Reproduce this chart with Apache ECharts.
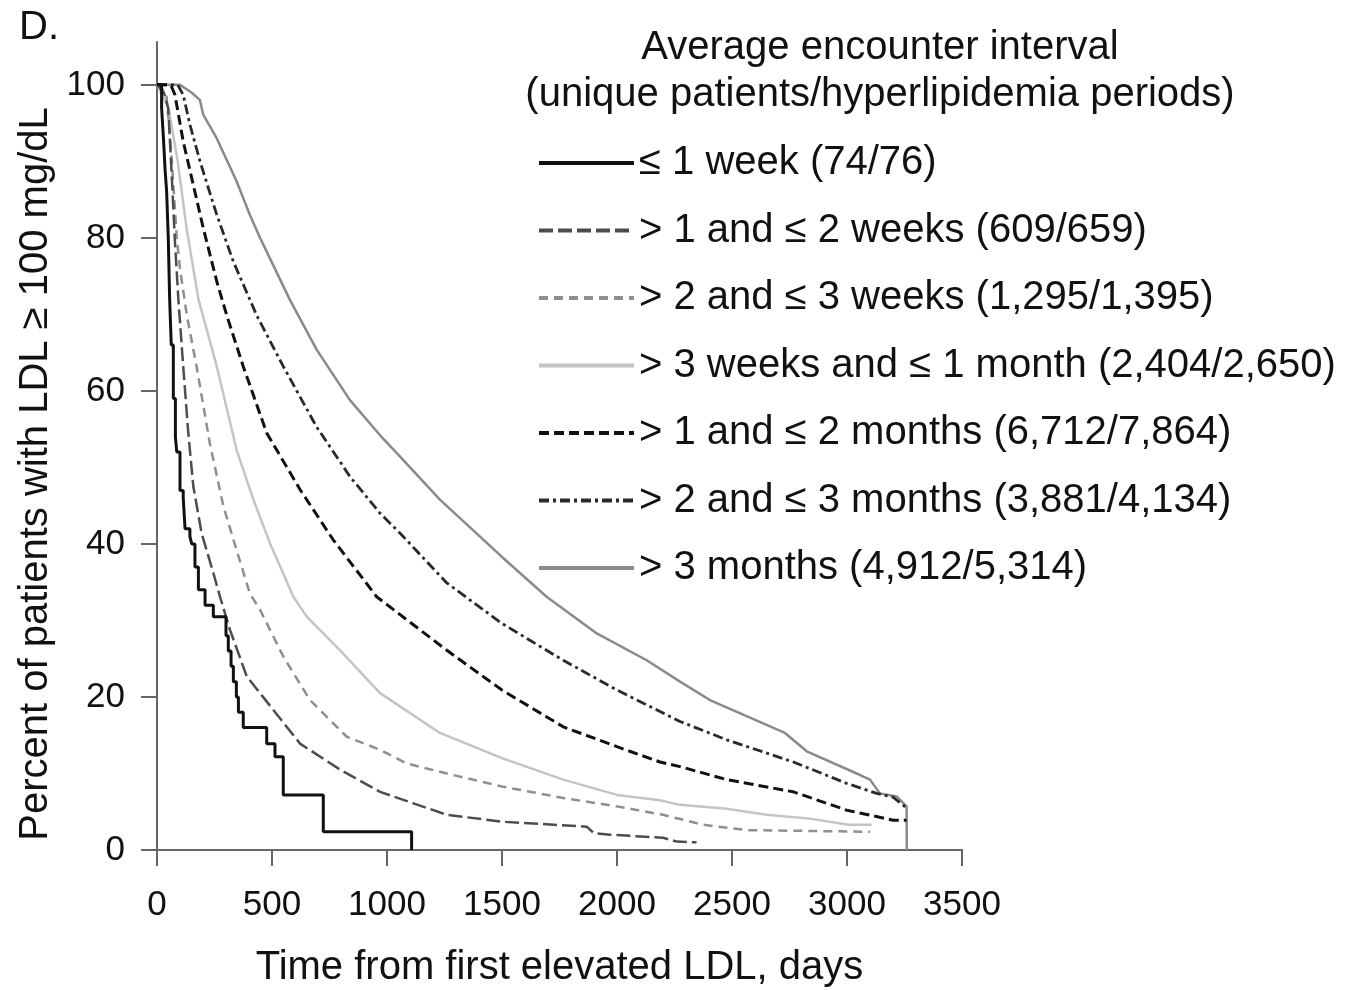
<!DOCTYPE html>
<html>
<head>
<meta charset="utf-8">
<script src="https://cdn.jsdelivr.net/npm/echarts@6/dist/echarts.min.js"></script>
<style>
  html, body { margin: 0; padding: 0; background: #fff; }
  #chart { width: 1363px; height: 990px; }
</style>
</head>
<body>
<div id="chart"></div>
<script>
// survival curves: [days, percent]
const upTo1Week = [[0, 100], [20, 97], [28, 93], [35, 89], [42, 86], [49, 80], [55, 72], [62, 66], [71, 59], [80, 54], [86, 52], [100, 47], [114, 46], [122, 42], [143, 41], [151, 40], [165, 37], [180, 34], [209, 32], [245, 30.5], [300, 28], [310, 26], [322, 24], [332, 22], [345, 20], [354, 18], [375, 16], [477, 13.9], [513, 12.2], [549, 7.2], [723, 2.4], [1107, 0]];
const weeks1to2 = [[0, 100], [30, 99], [49, 96.9], [64, 88.2], [78, 79.5], [93, 71.9], [114, 63.2], [136, 54.5], [158, 47.5], [194, 41.4], [245, 36.2], [274, 33.1], [317, 28.8], [390, 22.7], [506, 18.3], [622, 13.9], [796, 10.5], [970, 7.6], [1115, 6.1], [1260, 4.6], [1500, 3.7], [1868, 3.05], [1900, 2.2], [1970, 2.0], [2200, 1.6], [2260, 1.1], [2346, 1.0]];
const weeks2to3 = [[0, 100], [40, 99], [60, 92], [86, 80], [100, 76], [129, 70], [172, 63.2], [230, 53.1], [288, 45], [346, 39.2], [404, 33.5], [448, 31.4], [549, 25.3], [665, 19.6], [825, 14.8], [970, 13.1], [1086, 11.3], [1260, 10.0], [1500, 8.3], [1766, 6.8], [2000, 5.7], [2200, 4.6], [2374, 3.3], [2564, 2.6], [3057, 2.4], [3100, 2.4]];
const weeks3toMonth = [[0, 100], [50, 97], [90, 90], [130, 81], [180, 72], [260, 63.2], [346, 52.3], [419, 45.8], [491, 40.1], [593, 33.1], [651, 30.5], [796, 26.1], [970, 20.5], [1230, 15.3], [1500, 12.0], [1766, 9.2], [2000, 7.2], [2187, 6.5], [2274, 5.9], [2477, 5.4], [2650, 4.6], [2839, 4.1], [3006, 3.3], [3107, 3.3]];
const months1to2 = [[0, 100], [60, 100], [78, 98.7], [114, 92.6], [158, 86.9], [201, 81.3], [260, 74.3], [303, 69.9], [375, 63.2], [477, 54.5], [622, 47.1], [767, 40.5], [955, 33.1], [1260, 26.1], [1500, 20.9], [1766, 16.1], [2000, 13.5], [2187, 11.5], [2274, 10.9], [2477, 9.2], [2767, 7.6], [2999, 5.2], [3201, 3.9], [3259, 3.9]];
const months2to3 = [[0, 100], [90, 100], [114, 98.7], [143, 94.8], [187, 90], [260, 83], [332, 76.9], [433, 69.9], [549, 63.2], [694, 55.3], [839, 48.8], [970, 44.0], [1057, 41.4], [1260, 34.9], [1500, 29.6], [1766, 24.8], [2000, 20.9], [2187, 18.1], [2274, 16.8], [2477, 14.4], [2767, 11.5], [2999, 8.7], [3129, 7.4], [3200, 6.9], [3259, 5.5]];
const over3Months = [[0, 100], [100, 100], [150, 99], [187, 98], [201, 96.1], [260, 93], [346, 87.4], [404, 83], [448, 80], [578, 71.9], [694, 65.4], [839, 58.8], [970, 54.2], [1057, 51.4], [1230, 45.8], [1500, 38.3], [1694, 33.1], [1912, 28.3], [2129, 24.8], [2274, 22.0], [2404, 19.6], [2730, 15.3], [2825, 12.9], [3057, 9.8], [3100, 9.2], [3143, 7.4], [3216, 7.0], [3259, 5.7], [3260, 0]];

const seriesNames = [
  '≤ 1 week (74/76)',
  '> 1 and ≤ 2 weeks (609/659)',
  '> 2 and ≤ 3 weeks (1,295/1,395)',
  '> 3 weeks and ≤ 1 month (2,404/2,650)',
  '> 1 and ≤ 2 months (6,712/7,864)',
  '> 2 and ≤ 3 months (3,881/4,134)',
  '> 3 months (4,912/5,314)'
];
const xTicks = [0, 500, 1000, 1500, 2000, 2500, 3000, 3500];
const yTicks = [0, 20, 40, 60, 80, 100];

const FONT = '"Liberation Sans", Arial, sans-serif';
const curves = [upTo1Week, weeks1to2, weeks2to3, weeks3toMonth, months1to2, months2to3, over3Months];
const styles = [
  { color: '#111', width: 3, type: 'solid' },
  { color: '#4d4d4d', width: 2.5, type: [14, 5] },
  { color: '#8f8f8f', width: 2.5, type: [9, 6] },
  { color: '#c4c4c4', width: 2.5, type: 'solid' },
  { color: '#111', width: 3, type: [10, 5] },
  { color: '#2a2a2a', width: 2.8, type: [10, 4, 3, 4] },
  { color: '#8a8a8a', width: 2.5, type: 'solid' }
];

const chart = echarts.init(document.getElementById('chart'));

chart.setOption({
  animation: false,
  textStyle: { fontFamily: FONT },
  grid: { left: 157, right: 401, top: 42, bottom: 140, outerBoundsMode: 'none', containLabel: false },
  graphic: [
    {
      type: 'text', left: 19, top: 8,
      style: { text: 'D.', fontSize: 40, fontFamily: FONT, fill: '#111' }
    },
    {
      type: 'text', x: 880, y: 24,
      style: {
        text: 'Average encounter interval\n(unique patients/hyperlipidemia periods)',
        textAlign: 'center', fontSize: 40, lineHeight: 47, fontFamily: FONT, fill: '#111'
      }
    }
  ],
  legend: {
    orient: 'vertical',
    left: 537,
    top: 143,
    padding: 0,
    itemWidth: 95,
    itemHeight: 4,
    itemGap: 27.5,
    itemStyle: { opacity: 0 },
    lineStyle: { width: 4 },
    textStyle: { fontSize: 40, lineHeight: 40, color: '#111', fontFamily: FONT },
    data: seriesNames
  },
  xAxis: {
    type: 'value',
    min: 0,
    max: 3500,
    interval: 500,
    name: 'Time from first elevated LDL, days',
    nameLocation: 'middle',
    nameGap: 98,
    nameTextStyle: { fontSize: 40, color: '#111', fontFamily: FONT },
    splitLine: { show: false },
    axisLine: { lineStyle: { color: '#666', width: 2 } },
    axisTick: { length: 16, lineStyle: { color: '#666', width: 2 }, customValues: xTicks },
    axisLabel: { fontSize: 35, color: '#111', margin: 38, customValues: xTicks, formatter: v => String(v) }
  },
  yAxis: {
    type: 'value',
    min: 0,
    max: 105.6,
    name: 'Percent of patients with LDL ≥ 100 mg/dL',
    nameLocation: 'middle',
    nameGap: 101,
    nameTextStyle: { fontSize: 40, color: '#111', fontFamily: FONT, padding: [0, 56, 0, 0] },
    splitLine: { show: false },
    axisLine: { show: true, lineStyle: { color: '#666', width: 2 } },
    axisTick: { show: true, length: 16, lineStyle: { color: '#666', width: 2 }, customValues: yTicks },
    axisLabel: { fontSize: 35, color: '#111', margin: 32, customValues: yTicks }
  },
  series: curves.map((data, i) => ({
    name: seriesNames[i],
    type: 'line',
    data: data,
    step: i === 0 ? 'end' : false,
    symbol: 'none',
    silent: true,
    z: 10 - i,
    itemStyle: { color: styles[i].color },
    lineStyle: styles[i]
  }))
});
</script>
</body>
</html>
